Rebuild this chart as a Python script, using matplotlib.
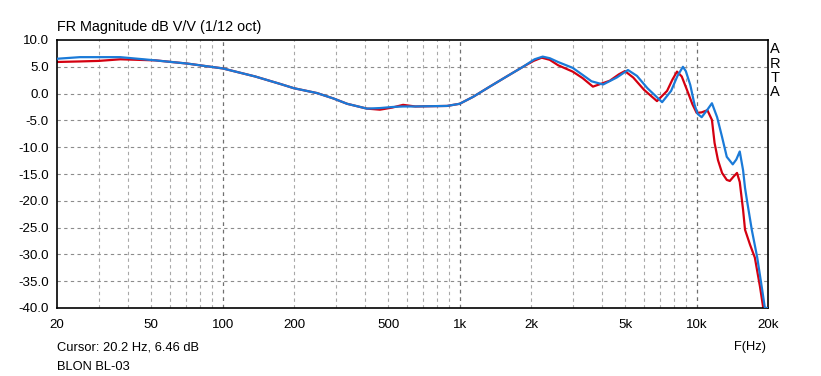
import matplotlib
matplotlib.use("Agg")
import matplotlib.pyplot as plt
from matplotlib.ticker import FixedLocator, NullFormatter, NullLocator

plt.rcParams['font.family'] = ['Liberation Sans', 'DejaVu Sans']

x_ticks = [20, 50, 100, 200, 500, 1000, 2000, 5000, 10000, 20000]
x_labels = ["20", "50", "100", "200", "500", "1k", "2k", "5k", "10k", "20k"]
y_ticks = [10, 5, 0, -5, -10, -15, -20, -25, -30, -35, -40]

red_f = [20, 25, 30, 37, 52, 71, 100, 137, 175, 200, 250, 293, 335, 406, 461, 520, 577, 650,
         885, 1000, 1140, 1340, 1580, 1850, 2050, 2220, 2400, 2600, 3000, 3300, 3650, 4300,
         4700, 4980, 5400, 6000, 6800, 7500, 7900, 8260, 8650, 9100, 9600, 10000, 10500,
         11100, 11600, 11900, 12300, 12800, 13400, 13800, 14300, 14800, 15200, 15700, 16000,
         16800, 17600, 18500, 19100, 20000]
red_db = [5.9, 6.0, 6.1, 6.4, 6.2, 5.6, 4.7, 3.2, 1.8, 1.0, 0.1, -0.9, -1.9, -2.8, -3.0, -2.6, -2.1, -2.4,
          -2.3, -1.9, -0.6, 1.3, 3.2, 5.0, 6.1, 6.7, 6.3, 5.3, 4.1, 2.9, 1.3, 2.4,
          3.6, 4.2, 3.0, 0.7, -1.4, 0.5, 2.6, 4.1, 3.2, 0.7, -2.0, -3.6, -3.5,
          -3.1, -4.9, -9.2, -12.4, -14.8, -16.1, -16.3, -15.5, -14.8, -16.5, -21.7, -25.4,
          -28.2, -30.6, -36.0, -40.0, -40.0]

blue_f = [20, 25, 30, 37, 52, 71, 100, 137, 175, 200, 250, 293, 335, 406, 461, 520, 577, 650,
          885, 1000, 1140, 1340, 1580, 1850, 2070, 2240, 2400, 2600, 3000, 3300, 3600, 4030,
          4600, 5130, 5600, 6200, 7150, 7800, 8300, 8750, 9000, 9400, 9800, 10100, 10500,
          11100, 11600, 12200, 12800, 13400, 14200, 14700, 15200, 15700, 16000, 16300,
          17100, 18000, 18900, 19400, 20000]
blue_db = [6.5, 6.8, 6.8, 6.8, 6.2, 5.6, 4.7, 3.2, 1.8, 1.0, 0.1, -0.9, -1.9, -2.8, -2.7, -2.5, -2.4, -2.4,
           -2.3, -1.9, -0.6, 1.3, 3.2, 5.0, 6.4, 6.9, 6.6, 5.9, 4.8, 3.5, 2.3, 1.7,
           3.0, 4.4, 3.3, 1.0, -1.6, 0.5, 3.3, 5.0, 4.2, 1.6, -2.1, -3.8, -4.4,
           -3.0, -1.8, -4.4, -8.1, -11.8, -13.2, -12.3, -10.8, -14.3, -17.6, -19.9,
           -25.5, -30.5, -36.6, -40.0, -40.0]

fig = plt.figure(figsize=(8.21, 3.76), dpi=100)
W, H = 821, 376
ax = fig.add_axes([57 / W, (H - 308) / H, (768 - 57) / W, (308 - 40) / H])

ax.set_xscale('log')
ax.set_xlim(20, 20000)
ax.set_ylim(-40, 10)

# grid
minor_x = [30, 40, 50, 60, 70, 80, 90, 200, 300, 400, 500, 600, 700, 800, 900,
           2000, 3000, 4000, 5000, 6000, 7000, 8000, 9000]
for f in minor_x:
    ax.axvline(f, color='#a8a8a8', lw=0.8, ls=(0, (3, 3)), zorder=0)
for f in [100, 1000, 10000]:
    ax.axvline(f, color='#707070', lw=0.9, ls=(0, (3, 3)), zorder=0)
for y in y_ticks[1:-1]:
    ax.axhline(y, color='#8c8c8c', lw=0.8, ls=(0, (3, 3)), zorder=0)

ax.plot(red_f, red_db, color='#d40010', lw=1.6, zorder=2, solid_joinstyle='round')
ax.plot(blue_f, blue_db, color='#1a7ad8', lw=1.6, zorder=3, solid_joinstyle='round')

ax.xaxis.set_major_locator(FixedLocator(x_ticks))
ax.set_xticklabels(x_labels)
ax.xaxis.set_minor_locator(NullLocator())
ax.xaxis.set_minor_formatter(NullFormatter())
ax.set_yticks(y_ticks)
ax.set_yticklabels([f"{v:.1f}" for v in y_ticks])
ax.tick_params(axis='both', length=0, labelsize=9.6, colors='black')
ax.tick_params(axis='x', pad=8)
ax.tick_params(axis='y', pad=6)
for s in ax.spines.values():
    s.set_color('black')
    s.set_linewidth(1.2)

fig.text(57 / W, 1 - 31 / H, "FR Magnitude dB V/V (1/12 oct)", fontsize=10.4, ha='left', va='baseline')
for i, ch in enumerate("ARTA"):
    fig.text(775 / W, 1 - (53 + i * 14.5) / H, ch, fontsize=10.5, ha='center', va='baseline')
fig.text(57 / W, 1 - 350 / H, "Cursor: 20.2 Hz, 6.46 dB", fontsize=9.3, ha='left', va='baseline')
fig.text(57 / W, 1 - 370 / H, "BLON BL-03", fontsize=9.3, ha='left', va='baseline')
fig.text(750 / W, 1 - 350 / H, "F(Hz)", fontsize=9.3, ha='center', va='baseline')

fig.savefig("out.png", dpi=100, facecolor='white')
